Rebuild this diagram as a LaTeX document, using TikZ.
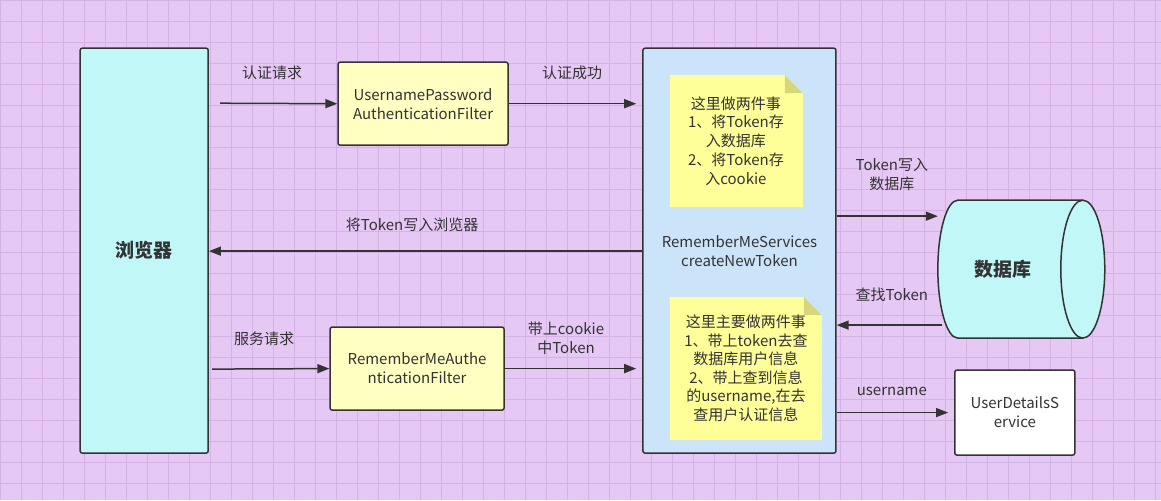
\documentclass[tikz,border=0pt]{standalone}
\usepackage{fontspec}
\setmainfont{Noto Sans CJK SC}
\usetikzlibrary{arrows.meta}
\definecolor{bg}{HTML}{E6C8F5}
\definecolor{gridc}{HTML}{D4B2E6}
\definecolor{cyanf}{HTML}{C2F7F7}
\definecolor{yel}{HTML}{FFFFC2}
\definecolor{note}{HTML}{FFFF99}
\definecolor{fold}{HTML}{D6D67A}
\definecolor{blu}{HTML}{CCE4FA}
\definecolor{ln}{HTML}{333333}
\tikzset{
 box/.style={draw=ln,line width=1.5pt,rounded corners=2pt,align=center,font=\fontsize{15}{19}\selectfont,text=ln},
 lbl/.style={align=center,font=\fontsize{15}{19}\selectfont,text=ln},
 arr/.style={draw=ln,line width=1.5pt,-{Triangle[length=12pt,width=9pt]}},
}
\begin{document}
\begin{tikzpicture}[x=1pt,y=-1pt]
\fill[bg] (0,0) rectangle (1161,500);
\foreach \i in {0,21,...,1160} \draw[gridc,line width=0.5pt] (\i,0) -- (\i,500);
\foreach \j in {0,21,...,500} \draw[gridc,line width=0.5pt] (0,\j) -- (1161,\j);
\useasboundingbox (0,0) rectangle (1161,500);
\node[box,fill=cyanf,minimum width=128pt,minimum height=405pt,font=\fontsize{19}{23}\selectfont\bfseries] (br) at (144,250.5) {浏览器};
\node[box,fill=yel,minimum width=170pt,minimum height=83pt] (upf) at (423,103.5) {UsernamePassword\\AuthenticationFilter};
\node[box,fill=yel,minimum width=174pt,minimum height=83pt] (rmf) at (417,368.5) {RememberMeAuthe\\nticationFilter};
\node[box,fill=blu,minimum width=193pt,minimum height=405pt] (rms) at (739.5,250.5) {RememberMeServices\\createNewToken};
% notes
\fill[note] (670,75) -- (785,75) -- (803,93) -- (803,207) -- (670,207) -- cycle;
\fill[fold] (785,75) -- (803,93) -- (785,93) -- cycle;
\node[lbl] (n1) at (736,141) {这里做两件事\\1、将Token存\\入数据库\\2、将Token存\\入cookie};
\fill[note] (670,297) -- (804,297) -- (822,315) -- (822,440) -- (670,440) -- cycle;
\fill[fold] (804,297) -- (822,315) -- (804,315) -- cycle;
\node[lbl,font=\fontsize{15}{18.5}\selectfont] (n2) at (746,368) {这里主要做两件事\\1、带上token去查\\数据库用户信息\\2、带上查到信息\\的username,在去\\查用户认证信息};
% database
\draw[ln,line width=1.5pt,fill=cyanf] (1083,200) -- (958,200) arc[start angle=270,end angle=90,x radius=20,y radius=69] -- (1083,338) arc[start angle=90,end angle=-90,x radius=22,y radius=69] -- cycle;
\draw[ln,line width=1.5pt] (1083,200) arc[start angle=270,end angle=90,x radius=22,y radius=69];
\node[lbl,font=\fontsize{19}{23}\selectfont\bfseries] (db) at (1003,269) {数据库};
\coordinate (dbl) at (938,216);
\coordinate (dbl2) at (942,325);
\node[box,fill=white,minimum width=120pt,minimum height=85pt] (uds) at (1015,412.5) {UserDetailsS\\ervice};
% arrows
\coordinate (s1) at (220,103);
\coordinate (s2) at (212,369);
\draw[arr] (s1) -- (upf.west);
\node[lbl] at (272,73) {认证请求};
\draw[arr,shorten >=6pt] (upf.east) -- (rms.west |- upf.east);
\node[lbl] at (572,73) {认证成功};
\draw[arr] (rms.west |- 0,251) -- (br.east |- 0,251);
\node[lbl] at (412,225) {将Token写入浏览器};
\draw[arr] (s2) -- (rmf.west);
\node[lbl] at (264,339) {服务请求};
\draw[arr,shorten >=6pt] (rmf.east) -- (rms.west |- rmf.east);
\node[lbl] at (566,338) {带上cookie\\中Token};
\draw[arr] (rms.east |- dbl) -- (dbl);
\node[lbl] at (892,174) {Token写入\\数据库};
\draw[arr] (dbl2) -- (rms.east |- dbl2);
\node[lbl] at (892,295) {查找Token};
\draw[arr,shorten >=6pt] (rms.east |- uds.west) -- (uds.west);
\node[lbl] at (892,391) {username};
\end{tikzpicture}
\end{document}
